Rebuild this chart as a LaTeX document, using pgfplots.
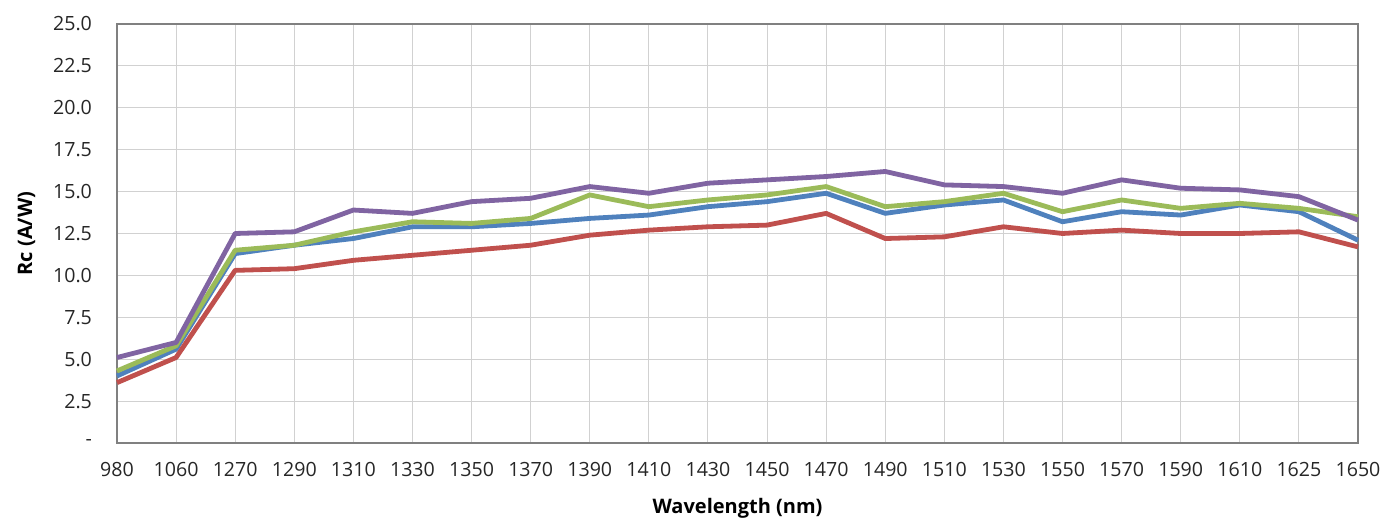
\documentclass[border=0pt]{standalone}
\usepackage{pgfplots}
\pgfplotsset{compat=1.18}
\usepackage{fontspec}
\setmainfont{Open Sans}
\definecolor{xblue}{HTML}{4F81BD}
\definecolor{xred}{HTML}{C0504D}
\definecolor{xgreen}{HTML}{9BBB59}
\definecolor{xpurple}{HTML}{8064A2}
\pgfplotstableread{
x blue red green purple
0  4.0  3.6  4.3  5.1
1  5.6  5.1  5.8  6.0
2  11.3 10.3 11.5 12.5
3  11.8 10.4 11.8 12.6
4  12.2 10.9 12.6 13.9
5  12.9 11.2 13.2 13.7
6  12.9 11.5 13.1 14.4
7  13.1 11.8 13.4 14.6
8  13.4 12.4 14.8 15.3
9  13.6 12.7 14.1 14.9
10 14.1 12.9 14.5 15.5
11 14.4 13.0 14.8 15.7
12 14.9 13.7 15.3 15.9
13 13.7 12.2 14.1 16.2
14 14.2 12.3 14.4 15.4
15 14.5 12.9 14.9 15.3
16 13.2 12.5 13.8 14.9
17 13.8 12.7 14.5 15.7
18 13.6 12.5 14.0 15.2
19 14.2 12.5 14.3 15.1
20 13.8 12.6 14.0 14.7
21 12.1 11.7 13.5 13.3
}\datatable
\begin{document}
\begin{tikzpicture}
\begin{axis}[
  scale only axis,
  width=620.5pt, height=209.5pt,
  xmin=0, xmax=21, ymin=0, ymax=25,
  xtick={0,...,21},
  xticklabels={980,1060,1270,1290,1310,1330,1350,1370,1390,1410,1430,1450,1470,1490,1510,1530,1550,1570,1590,1610,1625,1650},
  ytick={0,2.5,...,25},
  yticklabels={-,2.5,5.0,7.5,10.0,12.5,15.0,17.5,20.0,22.5,25.0},
  tick label style={font=\fontsize{9.8}{12}\selectfont, text=black!85},
  /pgf/number format/assume math mode=true,
  xticklabel style={yshift=-6pt},
  yticklabel style={xshift=-9pt},
  major tick length=0pt,
  grid=major,
  grid style={draw=black!18, line width=0.5pt},
  axis line style={draw=black!50, line width=0.8pt},
  xlabel={\bfseries Wavelength (nm)},
  ylabel={\bfseries Rc (A/W)},
  label style={font=\fontsize{10}{12}\selectfont\bfseries},
  xlabel style={yshift=-4pt},
  ylabel style={yshift=2pt},
  every axis plot/.append style={line width=2.4pt, line join=round, no markers},
  clip=false,
]
\addplot[xblue] table[x=x, y=blue] {\datatable};
\addplot[xred] table[x=x, y=red] {\datatable};
\addplot[xgreen] table[x=x, y=green] {\datatable};
\addplot[xpurple] table[x=x, y=purple] {\datatable};
\end{axis}
\path (current axis.south west) ++(-58.5pt,-38pt) coordinate (a);
\path (current axis.north east) ++(21pt,12pt) coordinate (b);
\path (a) rectangle (b);
\end{tikzpicture}
\end{document}
